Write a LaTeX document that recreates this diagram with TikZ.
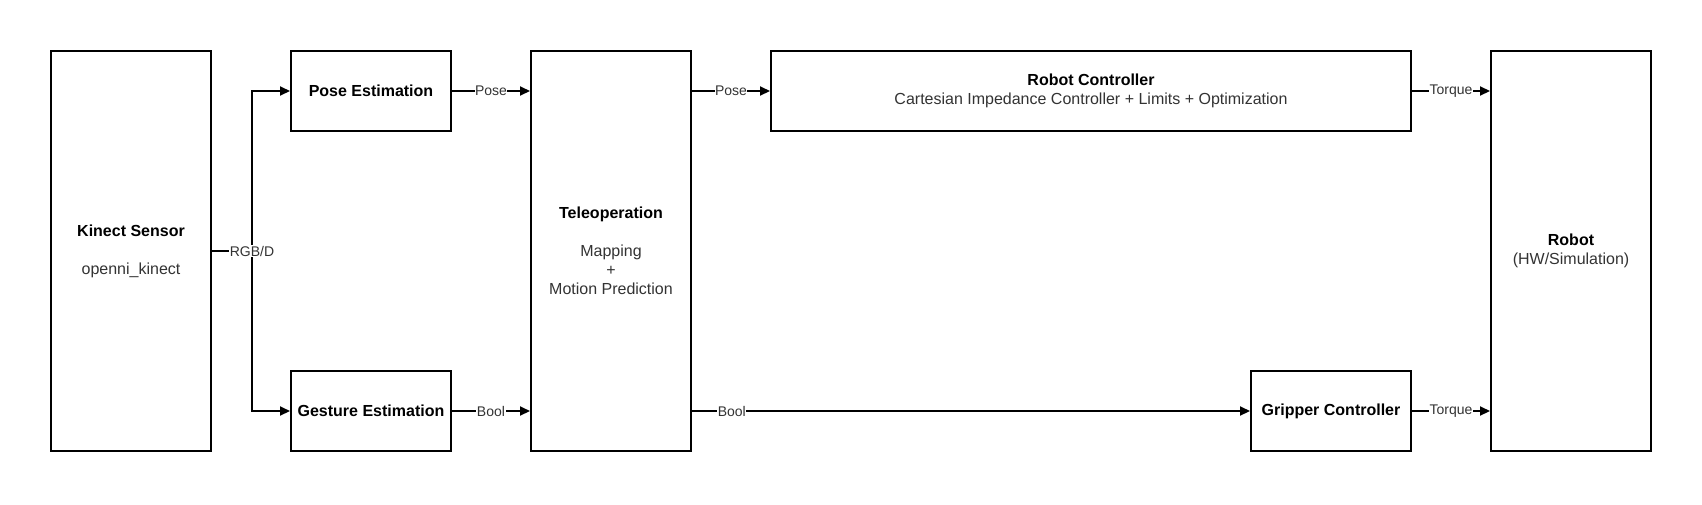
\documentclass[tikz,border=0pt]{standalone}
\usepackage{fontspec}
\setmainfont{Liberation Sans}
\usetikzlibrary{arrows.meta}
\definecolor{txtgray}{HTML}{333333}
\begin{document}
\begin{tikzpicture}[x=1pt,y=-1pt,
  blk/.style={draw=black, line width=2pt, fill=white, align=center, inner sep=2pt,
    font=\fontsize{16}{19}\selectfont, text=txtgray},
  tall/.style={blk, minimum width=160pt, minimum height=400pt},
  small/.style={blk, minimum width=160pt, minimum height=80pt},
  conn/.style={line width=2pt, -{Triangle[length=10pt,width=9pt]}},
  plain/.style={line width=2pt},
  lbl/.style={fill=white, inner sep=0.5pt, text=txtgray, font=\fontsize{14}{16}\selectfont}
]
\useasboundingbox (0,0) rectangle (1702,504);

\node[tall] (kin) at (131,251) {\textcolor{black}{\bfseries Kinect Sensor}\\ \mbox{}\\ openni\_kinect};
\node[small] (pose) at (371,91) {\textcolor{black}{\bfseries Pose Estimation}};
\node[small] (gest) at (371,411) {\textcolor{black}{\bfseries Gesture Estimation}};
\node[tall] (tele) at (611,251) {\textcolor{black}{\bfseries Teleoperation}\\ \mbox{}\\ Mapping\\ +\\ Motion Prediction};
\node[blk, minimum width=640pt, minimum height=80pt] (rc) at (1091,91) {\textcolor{black}{\bfseries Robot Controller}\\ Cartesian Impedance Controller + Limits + Optimization};
\node[small] (grip) at (1331,411) {\textcolor{black}{\bfseries Gripper Controller}};
\node[tall] (robot) at (1571,251) {\textcolor{black}{\bfseries Robot}\\ (HW/Simulation)};

\draw[plain] (kin.east) -- ++(40,0) coordinate (fork);
\draw[conn] (fork) |- (pose.west);
\draw[conn] (fork) |- (gest.west);
\node[lbl] at (fork) {RGB/D};

\draw[conn] (pose.east) -- node[lbl] {Pose} (pose.east -| tele.west);
\draw[conn] (gest.east) -- node[lbl] {Bool} (gest.east -| tele.west);
\draw[conn] (tele.east |- rc.west) -- node[lbl] {Pose} (rc.west);
\draw[conn] (tele.east |- grip.west) -- node[lbl, pos=0.0714] {Bool} (grip.west);
\draw[conn] (rc.east) -- node[lbl] {Torque} (rc.east -| robot.west);
\draw[conn] (grip.east) -- node[lbl] {Torque} (grip.east -| robot.west);
\end{tikzpicture}
\end{document}
